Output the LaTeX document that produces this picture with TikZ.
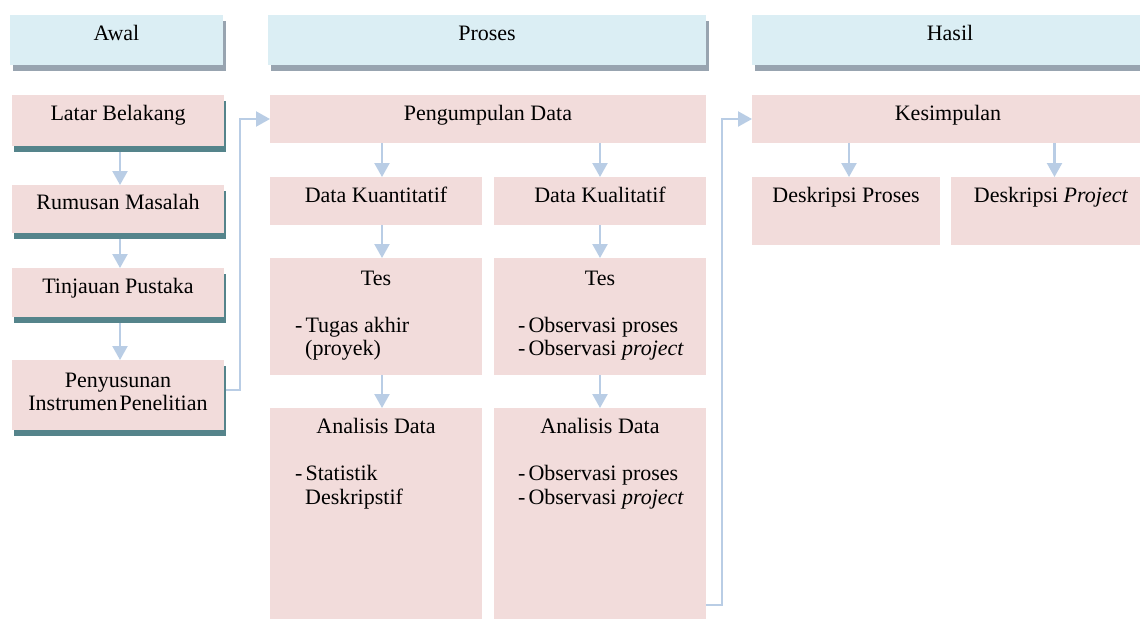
\documentclass[tikz,border=0pt]{standalone}
\usepackage{fontspec}
\setmainfont{Liberation Serif}
\usetikzlibrary{shadows,arrows.meta}
\definecolor{pinkbox}{HTML}{F2DCDB}
\definecolor{headblue}{HTML}{DBEEF4}
\definecolor{headshadow}{HTML}{98A4B0}
\definecolor{tealshadow}{HTML}{55848B}
\definecolor{arrowblue}{HTML}{B9CDE5}
\tikzset{
  pbox/.style={fill=pinkbox, draw=none, anchor=north west, inner sep=0pt, outer sep=0pt},
  hbox/.style={fill=headblue, draw=none, anchor=north west, inner sep=0pt, outer sep=0pt,
    drop shadow={shadow xshift=3pt, shadow yshift=-6pt, fill=headshadow, opacity=1}},
  lbox/.style={pbox, drop shadow={shadow xshift=2pt, shadow yshift=-6pt, fill=tealshadow, opacity=1}},
  txt/.style={anchor=base, inner sep=0pt, font=\fontsize{22}{23.5}\selectfont},
  ltxt/.style={anchor=base west, inner sep=0pt, font=\fontsize{22}{23.5}\selectfont},
  arr/.style={draw=arrowblue, line width=2.2pt, -{Triangle[width=15pt,length=14pt]}},
  conn/.style={draw=arrowblue, line width=2.2pt, -{Triangle[width=15pt,length=14pt]}}
}
\newcommand{\itm}{-\hspace{3pt}}
\begin{document}
\begin{tikzpicture}[x=1pt,y=-1pt]
\useasboundingbox[fill=white] (0,0) rectangle (1140,619);
% headers
\node[hbox, minimum width=213pt, minimum height=50pt] (hawal) at (10,15) {};
\node[hbox, minimum width=438pt, minimum height=50pt] (hproses) at (268,15) {};
\node[hbox, minimum width=392pt, minimum height=50pt] (hhasil) at (752,15) {};
\node[txt] (thawal) at (116.5,40) {Awal};
\node[txt] (thproses) at (487,40) {Proses};
\node[txt] (thhasil) at (950,40) {Hasil};
% left column
\node[lbox, minimum width=212pt, minimum height=51pt] (lb) at (12,95) {};
\node[lbox, minimum width=212pt, minimum height=48pt] (rm) at (12,185) {};
\node[lbox, minimum width=212pt, minimum height=49pt] (tp) at (12,268) {};
\node[lbox, minimum width=212pt, minimum height=70pt] (pi) at (12,360) {};
\node[txt] (tlb) at (118,120) {Latar Belakang};
\node[txt] (trm) at (118,209) {Rumusan Masalah};
\node[txt] (ttp) at (118,293) {Tinjauan Pustaka};
\node[txt] (tpi1) at (118,387) {Penyusunan};
\node[txt] (tpi2) at (118,410) {Instrumen\hspace{2pt}Penelitian};
% middle
\node[pbox, minimum width=436pt, minimum height=48pt] (pg) at (270,95) {};
\node[pbox, minimum width=212pt, minimum height=48pt] (kn) at (270,177) {};
\node[pbox, minimum width=212pt, minimum height=48pt] (kl) at (494,177) {};
\node[pbox, minimum width=212pt, minimum height=117pt] (ts1) at (270,258) {};
\node[pbox, minimum width=212pt, minimum height=117pt] (ts2) at (494,258) {};
\node[pbox, minimum width=212pt, minimum height=211pt] (an1) at (270,408) {};
\node[pbox, minimum width=212pt, minimum height=211pt] (an2) at (494,408) {};
\node[txt] (tpg) at (488,120) {Pengumpulan Data};
\node[txt] (tkn) at (376,202) {Data Kuantitatif};
\node[txt] (tkl) at (600,202) {Data Kualitatif};
\node[txt] (tts1) at (376,285) {Tes};
\node[txt] (tts2) at (600,285) {Tes};
\node[ltxt] (tts1a) at (295,332) {\itm Tugas akhir};
\node[ltxt] (tts1b) at (305,355) {(proyek)};
\node[ltxt] (tts2a) at (518,332) {\itm Observasi proses};
\node[ltxt] (tts2b) at (518,355) {\itm Observasi \textit{project}};
\node[txt] (tan1) at (376,433) {Analisis Data};
\node[txt] (tan2) at (600,433) {Analisis Data};
\node[ltxt] (tan1a) at (295,480) {\itm Statistik};
\node[ltxt] (tan1b) at (305,504) {Deskripstif};
\node[ltxt] (tan2a) at (518,480) {\itm Observasi proses};
\node[ltxt] (tan2b) at (518,504) {\itm Observasi \textit{project}};
% right
\node[pbox, minimum width=388pt, minimum height=48pt] (ks) at (752,95) {};
\node[pbox, minimum width=188pt, minimum height=68pt] (dp) at (752,177) {};
\node[pbox, minimum width=189pt, minimum height=68pt] (dj) at (951,177) {};
\node[txt] (tks) at (948,120) {Kesimpulan};
\node[txt] (tdp) at (846,202) {Deskripsi Proses};
\node[txt] (tdj) at (1051,202) {Deskripsi \textit{Project}};
% arrows left column
\draw[arr] ([xshift=2pt,yshift=-6pt]lb.south) -- ([xshift=2pt]rm.north);
\draw[arr] ([xshift=2pt,yshift=-6pt]rm.south) -- ([xshift=2pt]tp.north);
\draw[arr] ([xshift=2pt,yshift=-6pt]tp.south) -- ([xshift=2pt]pi.north);
% connectors
\draw[conn] ([xshift=2pt,yshift=5pt]pi.east) -- ++(14,0) |- (pg.west);
\draw[conn] ([yshift=14pt]an2.south east) -- ++(16,0) |- (ks.west);
% middle arrows
\draw[arr] ([xshift=6pt]kn.north |- pg.south) -- ([xshift=6pt]kn.north);
\draw[arr] (kl.north |- pg.south) -- (kl.north);
\draw[arr] ([xshift=6pt]kn.south) -- ([xshift=6pt]ts1.north);
\draw[arr] (kl.south) -- (ts2.north);
\draw[arr] ([xshift=6pt]ts1.south) -- ([xshift=6pt]an1.north);
\draw[arr] (ts2.south) -- (ts2.south |- an2.north);
% right arrows
\draw[arr] ([xshift=3pt]dp.north |- ks.south) -- ([xshift=3pt]dp.north);
\draw[arr] ([xshift=9pt]dj.north |- ks.south) -- ([xshift=9pt]dj.north);
\end{tikzpicture}
\end{document}
